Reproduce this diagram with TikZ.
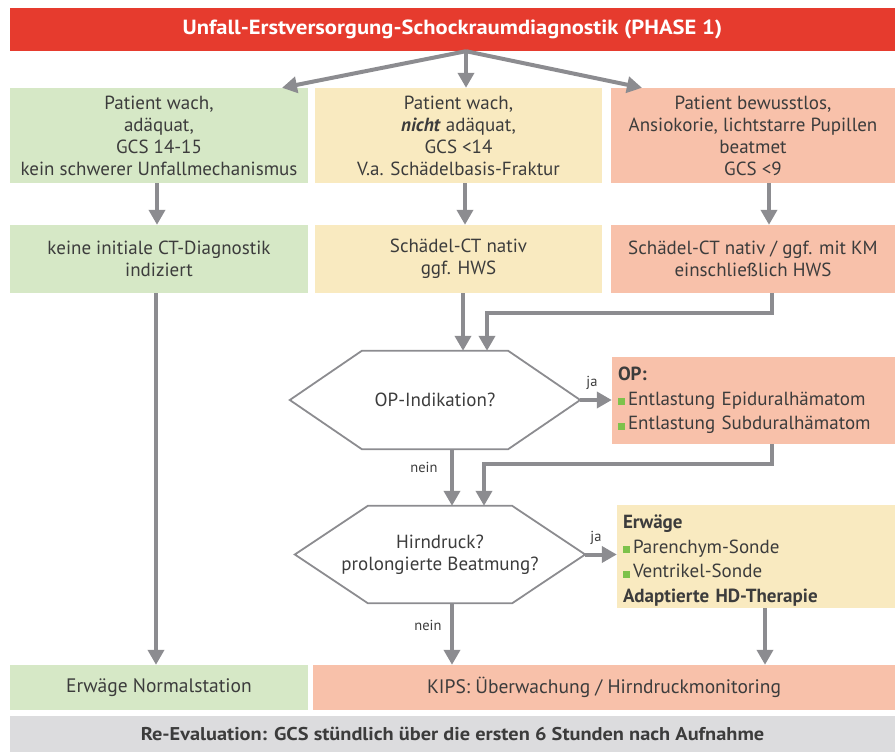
\documentclass[tikz,border=0pt]{standalone}
\usepackage{fontspec}
\setmainfont{PT Sans}
\newfontfamily\widefont[FakeStretch=1.1]{PT Sans}
\usetikzlibrary{arrows.meta}
\definecolor{tred}{HTML}{E63B2E}
\definecolor{bgreen}{HTML}{D6E8C6}
\definecolor{byellow}{HTML}{F9EAC0}
\definecolor{bsalmon}{HTML}{F8C1AA}
\definecolor{bgray}{HTML}{DCDCDE}
\definecolor{agray}{HTML}{8C8C90}
\definecolor{txt}{HTML}{3C3C3C}
\definecolor{bul}{HTML}{7DC24B}
\newcommand{\bulsq}{\textcolor{bul}{\rule{7pt}{7pt}}\hspace{3pt}}
\begin{document}
\begin{tikzpicture}[x=1pt,y=-1pt,
  box/.style={rectangle, inner sep=0pt, text=txt, align=center, font=\fontsize{19}{22}\selectfont},
  lbox/.style={box, align=left, inner xsep=6pt, font=\fontsize{19}{24.5}\selectfont},
  hexn/.style={rectangle, inner sep=0pt, text=txt, align=center, font=\fontsize{19}{22}\selectfont},
  hexline/.style={draw=agray, line width=1.8pt, line join=miter},
  arr/.style={draw=agray, line width=4pt, -{Triangle[length=15pt,width=16pt]}},
  lab/.style={text=txt, font=\fontsize{14.5}{16}\selectfont, inner sep=0pt}
]
\useasboundingbox (0,0) rectangle (895,752);
% title
\node[box, fill=tred, text=white, minimum width=885pt, minimum height=43pt, font=\widefont\bfseries\fontsize{20.5}{24}\selectfont] (title) at (452.5,29.5) {Unfall-Erstversorgung-Schockraumdiagnostik (PHASE 1)};
% row 1
\node[box, fill=bgreen, minimum width=298pt, minimum height=95pt] (g1) at (159,135.5) {Patient wach,\\adäquat,\\GCS 14-15\\kein schwerer Unfallmechanismus};
\node[box, fill=byellow, minimum width=287pt, minimum height=95pt] (y1) at (458.5,135.5) {Patient wach,\\\textbf{\textit{nicht}} adäquat,\\GCS <14\\V.a. Schädelbasis-Fraktur};
\node[box, fill=bsalmon, minimum width=284pt, minimum height=95pt] (s1) at (753,135.5) {Patient bewusstlos,\\Ansiokorie, lichtstarre Pupillen\\beatmet\\GCS <9};
% row 2
\node[box, fill=bgreen, minimum width=298pt, minimum height=68pt] (g2) at (159,259) {keine initiale CT-Diagnostik\\indiziert};
\node[box, fill=byellow, minimum width=287pt, minimum height=68pt] (y2) at (458.5,259) {Schädel-CT nativ\\ggf. HWS};
\node[box, fill=bsalmon, minimum width=284pt, minimum height=68pt] (s2) at (753,259) {Schädel-CT nativ / ggf. mit KM\\einschließlich HWS};
% decision 1
\node[hexn, minimum width=290pt, minimum height=98pt] (hex1) at (435,400) {OP-Indikation?};
\draw[hexline] (hex1.west) -- ([xshift=72pt]hex1.north west) -- ([xshift=-72pt]hex1.north east) -- (hex1.east) -- ([xshift=-72pt]hex1.south east) -- ([xshift=72pt]hex1.south west) -- cycle;
\node[lbox, fill=bsalmon, minimum width=283pt, minimum height=87pt, text width=271pt] (op) at (753.5,400.5) {\textbf{OP:}\\\bulsq Entlastung Epiduralhämatom\\\bulsq Entlastung Subduralhämatom};
% decision 2
\node[hexn, minimum width=290pt, minimum height=97pt] (hex2) at (440,554.5) {Hirndruck?\\prolongierte Beatmung?};
\draw[hexline] (hex2.west) -- ([xshift=73pt]hex2.north west) -- ([xshift=-73pt]hex2.north east) -- (hex2.east) -- ([xshift=-73pt]hex2.south east) -- ([xshift=73pt]hex2.south west) -- cycle;
\node[lbox, fill=byellow, minimum width=278pt, minimum height=103pt, text width=266pt] (erw) at (756,556.5) {\rule{0pt}{22pt}\textbf{Erwäge}\\\bulsq Parenchym-Sonde\\\bulsq Ventrikel-Sonde\\\textbf{Adaptierte HD-Therapie}};
% bottom
\node[box, fill=bgreen, minimum width=298pt, minimum height=45pt, font=\fontsize{19.5}{22}\selectfont] (g3) at (159,687.5) {Erwäge Normalstation};
\node[box, fill=bsalmon, minimum width=582pt, minimum height=45pt, font=\fontsize{19.5}{22}\selectfont] (s3) at (604,687.5) {KIPS: Überwachung / Hirndruckmonitoring};
\node[box, fill=bgray, minimum width=885pt, minimum height=36pt, font=\widefont\bfseries\fontsize{18.5}{21}\selectfont] (re) at (452.5,734) {Re-Evaluation: GCS stündlich über die ersten 6 Stunden nach Aufnahme};
% labels
\node[lab] (ja1) at (592,383) {ja};
\node[lab] (ja2) at (596,538) {ja};
\node[lab] (nein1) at (424,467) {nein};
\node[lab] (nein2) at (428,625) {nein};
% connectors
\draw[arr] ([xshift=13.5pt]title.south) -- ([xshift=123pt]g1.north);
\draw[arr] ([xshift=13.5pt]title.south) -- ([xshift=7.5pt]y1.north);
\draw[arr] ([xshift=13.5pt]title.south) -- ([xshift=-111pt]s1.north);
\draw[arr] ([xshift=-2pt]g1.south) -- ([xshift=-2pt]g2.north);
\draw[arr] ([xshift=6.5pt]y1.south) -- ([xshift=6.5pt]y2.north);
\draw[arr] ([xshift=16pt]s1.south) -- ([xshift=16pt]s2.north);
\draw[arr] ([xshift=-3pt]g2.south) -- ([xshift=-3pt]g3.north);
\draw[arr] ([xshift=4.5pt]y2.south) -- ([xshift=28pt]hex1.north);
\draw[arr] ([xshift=19pt]s2.south) -- ++(0,20) -| ([xshift=52pt]hex1.north);
\draw[arr] (hex1.east) -- (hex1.east -| op.west);
\draw[arr] ([xshift=17pt]hex1.south) -- ([xshift=12pt]hex2.north);
\draw[arr] ([xshift=18.5pt]op.south) -- ++(0,20) -| ([xshift=44pt]hex2.north);
\draw[arr] (hex2.east) -- (hex2.east -| erw.west);
\draw[arr] ([xshift=12pt]hex2.south) -- ([xshift=12pt]hex2.south |- s3.north);
\draw[arr] ([xshift=9pt]erw.south) -- ([xshift=9pt]erw.south |- s3.north);
\end{tikzpicture}
\end{document}
